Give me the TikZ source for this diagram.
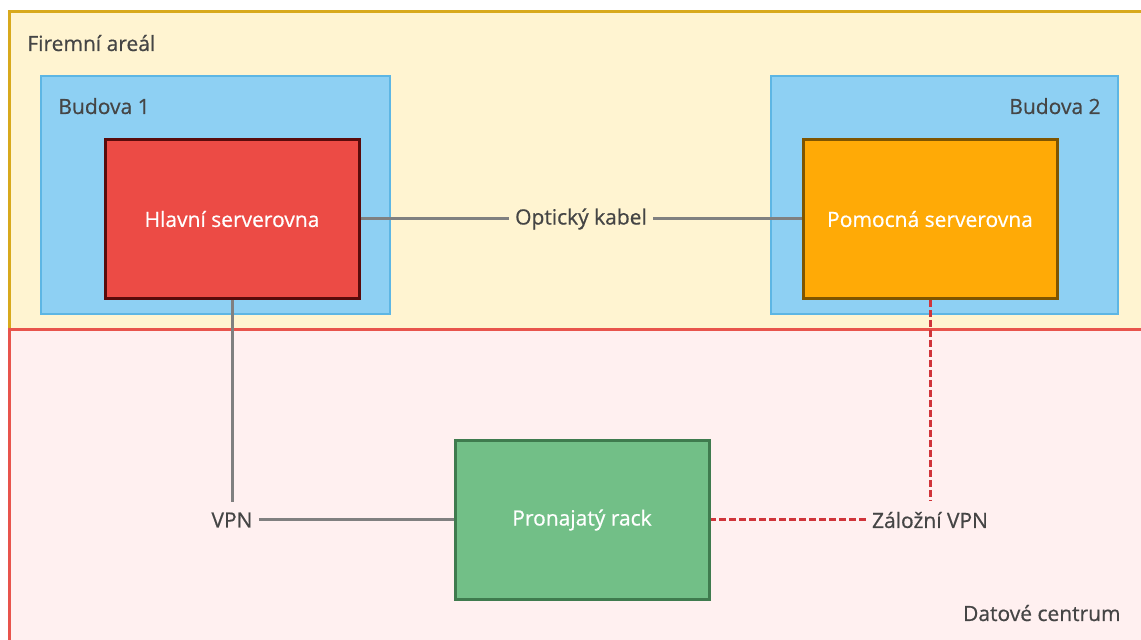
\documentclass[tikz,border=0pt]{standalone}
\usepackage{fontspec}
\setmainfont{Open Sans}[BoldFont=Open Sans, BoldFeatures={FakeBold=0.6}]
\usepackage{xcolor}
\definecolor{campusfill}{HTML}{FFF4D1}
\definecolor{campusline}{HTML}{D8A91C}
\definecolor{dcfill}{HTML}{FFF0F0}
\definecolor{dcline}{HTML}{E8544C}
\definecolor{bldfill}{HTML}{8ED0F3}
\definecolor{bldline}{HTML}{5DB6E4}
\definecolor{mainfill}{HTML}{EC4B45}
\definecolor{mainline}{HTML}{5A0B0B}
\definecolor{auxfill}{HTML}{FFAA06}
\definecolor{auxline}{HTML}{7F5500}
\definecolor{rackfill}{HTML}{72BF87}
\definecolor{rackline}{HTML}{3F7B4E}
\definecolor{cablegray}{HTML}{808080}
\definecolor{backupred}{HTML}{D0343A}
\definecolor{textgray}{HTML}{454545}
\usetikzlibrary{positioning}

\begin{document}
\begin{tikzpicture}[x=0.5pt, y=-0.5pt,
    txt/.style={font=\fontsize{10.5}{12}\selectfont\bfseries},
    title/.style={txt, text=textgray, inner sep=0pt},
    room/.style={txt, draw, line width=1.5pt, text=white, minimum width=127pt, minimum height=79.5pt},
    lbl/.style={txt, text=textgray, inner xsep=3pt, inner ysep=5pt},
    cable/.style={draw=cablegray, line width=1.5pt},
    backup/.style={draw=backupred, line width=1.5pt, dash pattern=on 3.5pt off 1.5pt}]
    \useasboundingbox (0, 0) rectangle (1141, 640);
    \fill[white] (0, 0) rectangle (1141, 640);

    \draw[fill=campusfill, draw=campusline, line width=1.5pt] (9, 12) rectangle (1150, 330);
    \draw[fill=dcfill, draw=dcline, line width=1.5pt] (9, 330) rectangle (1150, 650);
    \draw[fill=bldfill, draw=bldline, line width=1pt] (41, 76) rectangle (390, 314);
    \draw[fill=bldfill, draw=bldline, line width=1pt] (771, 76) rectangle (1118, 314);

    \node[title, anchor=base west] (campus) at (27, 51) {Firemní areál};
    \node[title, anchor=base west] (bld1) at (58, 114) {Budova 1};
    \node[title, anchor=base east] (bld2) at (1101, 114) {Budova 2};
    \node[title, anchor=base east] (dc) at (1121, 621) {Datové centrum};

    \node[room, fill=mainfill, draw=mainline] (main) at (232, 219) {Hlavní serverovna};
    \node[room, fill=auxfill, draw=auxline] (aux) at (930, 219) {Pomocná serverovna};
    \node[room, fill=rackfill, draw=rackline] (rack) at (582, 520) {Pronajatý rack};

    \node[lbl] (fiber) at (581, 219) {Optický kabel};
    \node[lbl] (vpn) at (232, 520) {VPN};
    \node[lbl] (backvpn) at (930, 520) {Záložní VPN};

    \draw[cable]
    (main) -- (fiber) -- (aux);
    \draw[cable]
    (main) -- (vpn) -- (rack);
    \draw[backup]
    (aux) -- (backvpn) -- (rack);
\end{tikzpicture}
\end{document}
